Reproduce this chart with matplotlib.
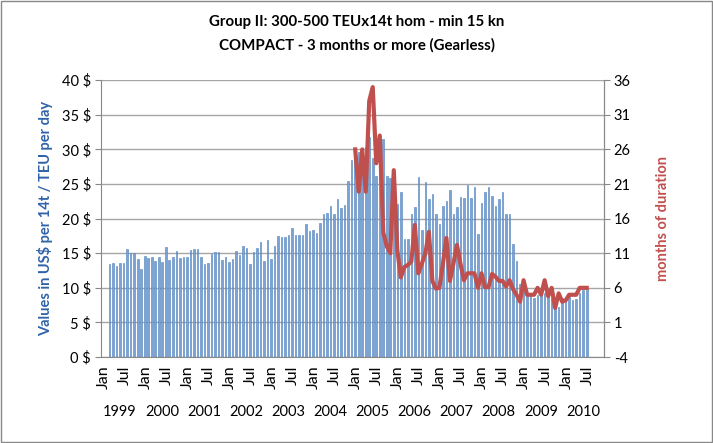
import numpy as np
import matplotlib
matplotlib.use("Agg")
import matplotlib.pyplot as plt
import matplotlib.transforms as mtransforms
from matplotlib.patches import Rectangle

plt.rcParams['font.family'] = ['Lato', 'DejaVu Sans']

# monthly rates, US$ per 14t / TEU per day (bars)
rates = [13.5, 13.6, 13.2, 13.6, 13.6, 15.6, 15.05, 15.05, 14.1, 12.65, 14.6, 14.3,
         14.4, 13.9, 14.5, 13.75, 15.9, 13.95, 14.5, 15.3, 14.3, 14.4, 14.4, 15.45,
         15.6, 15.6, 14.4, 13.5, 13.55, 14.95, 15.15, 15.15, 13.95, 14.5, 13.7, 14.2,
         15.3, 14.7, 16.0, 15.7, 13.4, 15.15, 15.7, 16.6, 13.85, 16.9, 14.1, 16.1,
         17.55, 17.3, 17.4, 17.7, 18.6, 17.6, 17.7, 17.7, 19.2, 18.2, 18.4, 17.9,
         19.3, 20.6, 20.8, 21.8, 20.7, 22.9, 21.6, 22.0, 25.4, 28.5, 29.0, 29.6,
         30.1, 30.4, 31.8, 28.7, 26.1, 29.0, 31.5, 26.2, 25.9, 24.5, 22.1, 23.9,
         17.0, 17.0, 20.7, 21.7, 26.0, 18.4, 25.3, 22.9, 23.5, 20.7, 19.2, 21.8,
         22.55, 24.2, 20.7, 21.7, 23.1, 23.05, 24.8, 23.0, 24.6, 17.75, 22.3, 23.8,
         24.5, 23.3, 21.8, 22.9, 23.8, 20.6, 20.7, 16.3, 13.85, 10.5, 9.5, 8.95,
         8.95, 8.5, 8.95, 8.95, 9.2, 9.2, 8.5, 8.0, 7.3, 8.5, 8.2, 8.95,
         8.3, 8.4, 9.2, 9.7, 9.9]

# months of duration (line), starts at month index 70
dur_start = 70
duration = [26.0, 19.9, 26.0, 19.9, 33.0, 35.0, 24.0, 28.0, 14.0, 12.0, 11.0, 23.0,
            11.5, 7.5, 9.0, 9.3, 9.8, 15.1, 8.1, 9.5, 11.0, 14.1, 7.0, 5.9,
            6.0, 9.5, 13.2, 7.0, 9.5, 12.2, 9.5, 7.1, 8.1, 8.1, 8.1, 6.0,
            8.1, 6.1, 6.1, 8.0, 7.6, 7.0, 7.0, 6.2, 7.1, 5.8, 5.0, 4.0,
            7.1, 5.0, 5.0, 5.0, 6.0, 5.0, 7.1, 4.8, 6.0, 3.1, 5.2, 4.0,
            4.2, 5.0, 5.0, 5.0, 6.0, 6.0, 6.0]

month_labels = ['Jan', 'Jul'] * 12
years = [str(y) for y in range(1999, 2011)]

left_ticks = np.arange(0, 41, 5)
right_ticks = np.arange(-4, 37, 5)

fig = plt.figure(figsize=(7.13, 4.43), dpi=100)
fig.patches.append(Rectangle((0.001, 0.002), 0.997, 0.995, transform=fig.transFigure,
                             fill=False, edgecolor='#888888', linewidth=1))
ax = fig.add_axes([0.141, 0.194, 0.706, 0.625])

x = np.arange(len(rates))
ax.bar(x, rates, width=0.45, color='#7ba3d6', edgecolor='#4f81bd', linewidth=0.4, zorder=2)
ax.set_ylim(0, 40)
ax.set_xlim(-2.6, 140.9)
ax.set_yticks(left_ticks)
ax.set_yticklabels(['%d $' % v for v in left_ticks], fontsize=10.5)
ax.grid(axis='y', color='#a6a6a6', linewidth=1, zorder=0)
ax.set_axisbelow(True)

ax.set_xticks(np.arange(len(month_labels)) * 6 - 1.8)
ax.set_xticklabels(month_labels, rotation=90, fontsize=11.5)
ax.tick_params(axis='x', length=0, pad=6)
ax.tick_params(axis='y', length=4, color='#888888', pad=3)
for i, yr in enumerate(years):
    ax.text(2.9 + 12 * i, -0.2, yr, fontsize=10.5, ha='center', va='center',
            transform=mtransforms.blended_transform_factory(ax.transData, ax.transAxes))

for s in ['left', 'bottom', 'right']:
    ax.spines[s].set_color('#888888')
ax.spines['top'].set_visible(False)

ax.set_ylabel('Values in US$ per 14t / TEU per day', fontsize=10.5, fontweight='bold',
              color='#2f63a8', labelpad=6)

ax2 = ax.twinx()
ax2.plot(np.arange(dur_start, dur_start + len(duration)), duration, color='#c0504d',
         linewidth=3, solid_joinstyle='round', zorder=3)
ax2.set_ylim(-4, 36)
ax2.set_yticks(right_ticks)
ax2.set_yticklabels([str(v) for v in right_ticks], fontsize=10.5)
ax2.tick_params(axis='y', length=4, color='#888888', pad=3)
ax2.spines['right'].set_color('#888888')
ax2.spines['top'].set_visible(False)
ax2.spines['left'].set_visible(False)
ax2.spines['bottom'].set_visible(False)
ax2.set_ylabel('months of duration', fontsize=10.5, fontweight='bold', color='#c0504d',
               labelpad=18)

fig.text(0.5, 0.95, 'Group II: 300-500 TEUx14t hom - min 15 kn', ha='center', va='center',
         fontsize=10.8, fontweight='bold')
fig.text(0.5, 0.898, 'COMPACT - 3 months or more (Gearless)', ha='center', va='center',
         fontsize=10.8, fontweight='bold')

fig.savefig('out.png', dpi=100)
